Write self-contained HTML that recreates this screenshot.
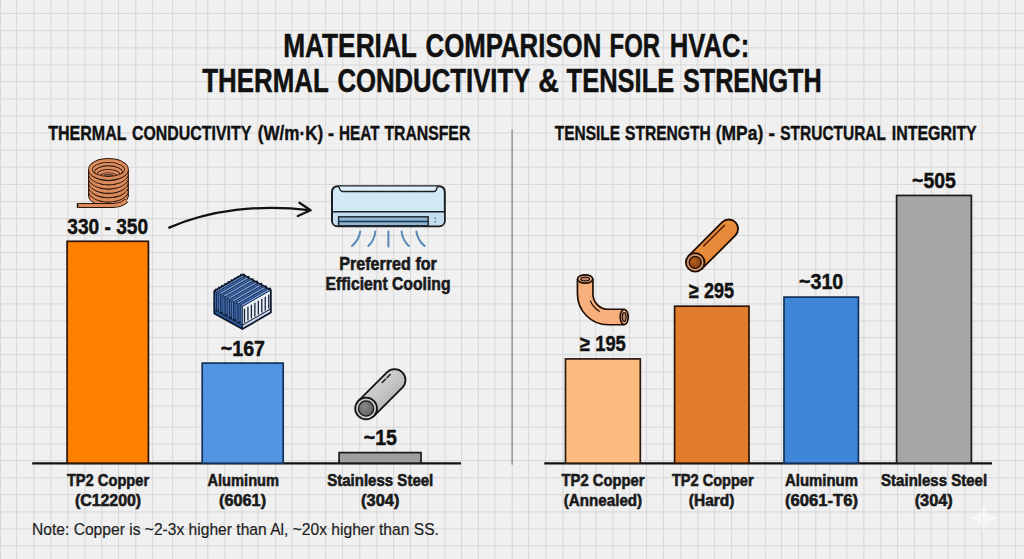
<!DOCTYPE html>
<html><head><meta charset="utf-8"><title>Material Comparison for HVAC</title>
<style>
html,body{margin:0;padding:0;background:#f0f0f0;}
body{width:1024px;height:559px;overflow:hidden;font-family:"Liberation Sans",sans-serif;}
svg{display:block;}
</style></head><body>
<svg width="1024" height="559" viewBox="0 0 1024 559">
<rect width="1024" height="559" fill="#f0f0f0"/>
<g stroke="#d7d7d7" stroke-width="1.0"><line x1="0.5" y1="0" x2="0.5" y2="559"/><line x1="16.55" y1="0" x2="16.55" y2="559"/><line x1="33.8" y1="0" x2="33.8" y2="559"/><line x1="50.8" y1="0" x2="50.8" y2="559"/><line x1="67.8" y1="0" x2="67.8" y2="559"/><line x1="84.8" y1="0" x2="84.8" y2="559"/><line x1="101.8" y1="0" x2="101.8" y2="559"/><line x1="118.55" y1="0" x2="118.55" y2="559"/><line x1="135.8" y1="0" x2="135.8" y2="559"/><line x1="152.7" y1="0" x2="152.7" y2="559"/><line x1="172.7" y1="0" x2="172.7" y2="559"/><line x1="195.8" y1="0" x2="195.8" y2="559"/><line x1="207.8" y1="0" x2="207.8" y2="559"/><line x1="224.8" y1="0" x2="224.8" y2="559"/><line x1="241.8" y1="0" x2="241.8" y2="559"/><line x1="257.8" y1="0" x2="257.8" y2="559"/><line x1="275.7" y1="0" x2="275.7" y2="559"/><line x1="291.9" y1="0" x2="291.9" y2="559"/><line x1="308.8" y1="0" x2="308.8" y2="559"/><line x1="325.7" y1="0" x2="325.7" y2="559"/><line x1="342.6" y1="0" x2="342.6" y2="559"/><line x1="359.8" y1="0" x2="359.8" y2="559"/><line x1="376.9" y1="0" x2="376.9" y2="559"/><line x1="393.7" y1="0" x2="393.7" y2="559"/><line x1="410.55" y1="0" x2="410.55" y2="559"/><line x1="427.8" y1="0" x2="427.8" y2="559"/><line x1="444.9" y1="0" x2="444.9" y2="559"/><line x1="461.55" y1="0" x2="461.55" y2="559"/><line x1="478.3" y1="0" x2="478.3" y2="559"/><line x1="494.9" y1="0" x2="494.9" y2="559"/><line x1="512.2" y1="0" x2="512.2" y2="559"/><line x1="528.55" y1="0" x2="528.55" y2="559"/><line x1="545.8" y1="0" x2="545.8" y2="559"/><line x1="562.9" y1="0" x2="562.9" y2="559"/><line x1="579.8" y1="0" x2="579.8" y2="559"/><line x1="595.8" y1="0" x2="595.8" y2="559"/><line x1="612.9" y1="0" x2="612.9" y2="559"/><line x1="629.8" y1="0" x2="629.8" y2="559"/><line x1="646.55" y1="0" x2="646.55" y2="559"/><line x1="663.4" y1="0" x2="663.4" y2="559"/><line x1="680.9" y1="0" x2="680.9" y2="559"/><line x1="697.8" y1="0" x2="697.8" y2="559"/><line x1="714.7" y1="0" x2="714.7" y2="559"/><line x1="731.55" y1="0" x2="731.55" y2="559"/><line x1="748.4" y1="0" x2="748.4" y2="559"/><line x1="765.3" y1="0" x2="765.3" y2="559"/><line x1="781.4" y1="0" x2="781.4" y2="559"/><line x1="798.55" y1="0" x2="798.55" y2="559"/><line x1="815.8" y1="0" x2="815.8" y2="559"/><line x1="829.8" y1="0" x2="829.8" y2="559"/><line x1="846.8" y1="0" x2="846.8" y2="559"/><line x1="863.9" y1="0" x2="863.9" y2="559"/><line x1="880.8" y1="0" x2="880.8" y2="559"/><line x1="897.55" y1="0" x2="897.55" y2="559"/><line x1="914.4" y1="0" x2="914.4" y2="559"/><line x1="931.05" y1="0" x2="931.05" y2="559"/><line x1="947.8" y1="0" x2="947.8" y2="559"/><line x1="964.8" y1="0" x2="964.8" y2="559"/><line x1="981.9" y1="0" x2="981.9" y2="559"/><line x1="998.8" y1="0" x2="998.8" y2="559"/><line x1="1015.7" y1="0" x2="1015.7" y2="559"/><line x1="0" y1="13.45" x2="1024" y2="13.45"/><line x1="0" y1="30.7" x2="1024" y2="30.7"/><line x1="0" y1="47.8" x2="1024" y2="47.8"/><line x1="0" y1="64.9" x2="1024" y2="64.9"/><line x1="0" y1="81.6" x2="1024" y2="81.6"/><line x1="0" y1="98.9" x2="1024" y2="98.9"/><line x1="0" y1="115.8" x2="1024" y2="115.8"/><line x1="0" y1="133.0" x2="1024" y2="133.0"/><line x1="0" y1="150.3" x2="1024" y2="150.3"/><line x1="0" y1="167.2" x2="1024" y2="167.2"/><line x1="0" y1="184.4" x2="1024" y2="184.4"/><line x1="0" y1="201.6" x2="1024" y2="201.6"/><line x1="0" y1="218.6" x2="1024" y2="218.6"/><line x1="0" y1="235.6" x2="1024" y2="235.6"/><line x1="0" y1="252.65" x2="1024" y2="252.65"/><line x1="0" y1="269.4" x2="1024" y2="269.4"/><line x1="0" y1="286.6" x2="1024" y2="286.6"/><line x1="0" y1="303.9" x2="1024" y2="303.9"/><line x1="0" y1="320.9" x2="1024" y2="320.9"/><line x1="0" y1="337.6" x2="1024" y2="337.6"/><line x1="0" y1="354.7" x2="1024" y2="354.7"/><line x1="0" y1="371.9" x2="1024" y2="371.9"/><line x1="0" y1="388.9" x2="1024" y2="388.9"/><line x1="0" y1="405.95" x2="1024" y2="405.95"/><line x1="0" y1="427.2" x2="1024" y2="427.2"/><line x1="0" y1="443.9" x2="1024" y2="443.9"/><line x1="0" y1="460.6" x2="1024" y2="460.6"/><line x1="0" y1="477.8" x2="1024" y2="477.8"/><line x1="0" y1="494.7" x2="1024" y2="494.7"/><line x1="0" y1="511.9" x2="1024" y2="511.9"/><line x1="0" y1="528.9" x2="1024" y2="528.9"/><line x1="0" y1="545.9" x2="1024" y2="545.9"/></g><line x1="512.2" y1="129.5" x2="512.2" y2="464.7" stroke="#a0a0a0" stroke-width="1.7"/><line x1="32.2" y1="463.4" x2="461" y2="463.4" stroke="#111" stroke-width="2.2"/><line x1="544.3" y1="463.4" x2="992" y2="463.4" stroke="#111" stroke-width="2.2"/><rect x="67.1" y="241.3" width="81.30000000000001" height="221.89999999999998" fill="#ff8000" stroke="#2a1405" stroke-width="1.7"/><rect x="202.2" y="363.1" width="81.0" height="100.09999999999997" fill="#5094e2" stroke="#14305a" stroke-width="1.7"/><rect x="339.1" y="452.6" width="81.89999999999998" height="10.599999999999966" fill="#9f9f9f" stroke="#1a1a1a" stroke-width="1.7"/><rect x="565.5" y="358.9" width="74.79999999999995" height="104.30000000000001" fill="#fdbb7f" stroke="#2a1a10" stroke-width="1.7"/><rect x="674.6" y="306.2" width="74.39999999999998" height="157.0" fill="#e17c2c" stroke="#2a1405" stroke-width="1.7"/><rect x="784.0" y="297.1" width="74.39999999999998" height="166.09999999999997" fill="#3d86d8" stroke="#14305a" stroke-width="1.7"/><rect x="896.6" y="195.45" width="74.79999999999995" height="267.75" fill="#a6a6a6" stroke="#1a1a1a" stroke-width="1.7"/><defs><linearGradient id="gss" x1="0" y1="0" x2="1" y2="1"><stop offset="0" stop-color="#e4e4e4"/><stop offset="0.5" stop-color="#c6c6c6"/><stop offset="1" stop-color="#9a9a9a"/></linearGradient><radialGradient id="gssh" cx="0.4" cy="0.4" r="0.7"><stop offset="0" stop-color="#8a8a8a"/><stop offset="1" stop-color="#5a5a5a"/></radialGradient><linearGradient id="gcu" x1="0" y1="0" x2="1" y2="1"><stop offset="0" stop-color="#f0994a"/><stop offset="1" stop-color="#df7d2c"/></linearGradient><radialGradient id="gcuh" cx="0.4" cy="0.4" r="0.7"><stop offset="0" stop-color="#b5601f"/><stop offset="1" stop-color="#7e3a10"/></radialGradient></defs><g><path d="M88.05,169.4 L88.05,195.2 A20.4,11.4 0 0 0 128.85,195.2 L128.85,169.4 Z" fill="#2a1307"/><path d="M90.45,195.2 A18.0,9.0 0 0 0 126.45,195.2" fill="none" stroke="#2a1307" stroke-width="4.4"/><path d="M90.45,195.2 A18.0,9.0 0 0 0 126.45,195.2" fill="none" stroke="#da8a5b" stroke-width="3.1"/><path d="M90.45,190.9 A18.0,9.0 0 0 0 126.45,190.9" fill="none" stroke="#2a1307" stroke-width="4.4"/><path d="M90.45,190.9 A18.0,9.0 0 0 0 126.45,190.9" fill="none" stroke="#da8a5b" stroke-width="3.1"/><path d="M90.45,186.6 A18.0,9.0 0 0 0 126.45,186.6" fill="none" stroke="#2a1307" stroke-width="4.4"/><path d="M90.45,186.6 A18.0,9.0 0 0 0 126.45,186.6" fill="none" stroke="#da8a5b" stroke-width="3.1"/><path d="M90.45,182.3 A18.0,9.0 0 0 0 126.45,182.3" fill="none" stroke="#2a1307" stroke-width="4.4"/><path d="M90.45,182.3 A18.0,9.0 0 0 0 126.45,182.3" fill="none" stroke="#da8a5b" stroke-width="3.1"/><path d="M90.45,178.0 A18.0,9.0 0 0 0 126.45,178.0" fill="none" stroke="#2a1307" stroke-width="4.4"/><path d="M90.45,178.0 A18.0,9.0 0 0 0 126.45,178.0" fill="none" stroke="#da8a5b" stroke-width="3.1"/><path d="M90.45,173.70000000000002 A18.0,9.0 0 0 0 126.45,173.70000000000002" fill="none" stroke="#2a1307" stroke-width="4.4"/><path d="M90.45,173.70000000000002 A18.0,9.0 0 0 0 126.45,173.70000000000002" fill="none" stroke="#da8a5b" stroke-width="3.1"/><path d="M78.6,205.5 L113,205.5 Q121,205.5 126.5,200.5" fill="none" stroke="#2a1307" stroke-width="5.0" stroke-linecap="butt"/><path d="M78.6,205.5 L113,205.5 Q121,205.5 126.5,200.5" fill="none" stroke="#da8a5b" stroke-width="3.2"/><path d="M77.6,203 L77.6,208" stroke="#2a1307" stroke-width="1.6"/><defs><clipPath id="coilin"><ellipse cx="108.45" cy="169.4" rx="16.7" ry="7.7"/></clipPath></defs><ellipse cx="108.45" cy="169.4" rx="18.0" ry="9.0" fill="#c47a55"/><g clip-path="url(#coilin)"><ellipse cx="108.45" cy="176.6" rx="10.98" ry="5.49" fill="none" stroke="#2a1307" stroke-width="4.0"/><ellipse cx="108.45" cy="176.6" rx="10.98" ry="5.49" fill="none" stroke="#d98a60" stroke-width="2.8"/><ellipse cx="108.45" cy="174.20000000000002" rx="13.32" ry="6.66" fill="none" stroke="#2a1307" stroke-width="4.0"/><ellipse cx="108.45" cy="174.20000000000002" rx="13.32" ry="6.66" fill="none" stroke="#d98a60" stroke-width="2.8"/><ellipse cx="108.45" cy="171.8" rx="15.66" ry="7.83" fill="none" stroke="#2a1307" stroke-width="4.0"/><ellipse cx="108.45" cy="171.8" rx="15.66" ry="7.83" fill="none" stroke="#d98a60" stroke-width="2.8"/><ellipse cx="108.45" cy="176.4" rx="5.2" ry="1.7" fill="#9a8d88" stroke="#2a1307" stroke-width="1"/></g><ellipse cx="108.45" cy="169.4" rx="18.0" ry="9.0" fill="none" stroke="#2a1307" stroke-width="4.6"/><ellipse cx="108.45" cy="169.4" rx="18.0" ry="9.0" fill="none" stroke="#da8a5b" stroke-width="3.0"/></g><g fill="none" stroke="#111" stroke-width="2.3" stroke-linecap="round" stroke-linejoin="round"><path d="M169.2,227.6 C210,210 260,204 309.5,210.2"/><path d="M299.4,202.8 L310.6,210.3 L297.8,216"/></g><g><rect x="332" y="186.2" width="112.8" height="40" rx="5.5" fill="#d2e9f6" stroke="#1b1f24" stroke-width="2"/><path d="M333,212 L443.8,212 L443.8,221 Q443.8,225.2 439.5,225.2 L337.3,225.2 Q333,225.2 333,221 Z" fill="#c4def0"/><line x1="332.5" y1="211.8" x2="444.3" y2="211.8" stroke="#1b1f24" stroke-width="1.6"/><path d="M339,186.6 Q340,191.5 342.5,191.5 L434,191.5 Q436.5,191.5 437.3,186.6" fill="#e0f0fa" stroke="#1b1f24" stroke-width="1.4"/><rect x="338.6" y="216.8" width="89.6" height="9" fill="#8fb4d2" stroke="#1b1f24" stroke-width="1.4"/><line x1="338.6" y1="221.5" x2="428.2" y2="221.5" stroke="#17324d" stroke-width="1.5"/><rect x="434.4" y="217.6" width="1.6" height="1.4" fill="#4a6f90"/><rect x="434.4" y="221.2" width="1.6" height="1.4" fill="#4a6f90"/><g fill="none" stroke="#5a88b8" stroke-width="2" stroke-linecap="round"><path d="M360.2,231.5 Q359,240 352,246"/><path d="M375.4,231.5 Q374.5,240 368.4,246"/><path d="M388.4,231.5 L388.4,246.4"/><path d="M401.6,231.5 Q402.5,240 408.8,246"/><path d="M416.4,231.5 Q417.5,240 424.6,246"/></g></g><g><path d="M214.30,309.60 L242.40,325.00 L242.40,306.40 L214.30,291.00 Z" fill="#1b2c4c" stroke="#0f1a30" stroke-width="0.8" stroke-linejoin="round"/><path d="M214.30,313.60 L242.40,329.00 L242.40,325.00 L214.30,309.60 Z" fill="#2c5597" stroke="#0f1a30" stroke-width="1.0" stroke-linejoin="round"/><path d="M242.40,329.00 L270.80,312.60 L270.80,308.60 L242.40,325.00 Z" fill="#c9d6e8" stroke="#0f1a30" stroke-width="1.0" stroke-linejoin="round"/><path d="M214.30,309.60 L216.41,310.75 L216.41,292.15 L214.30,291.00 Z" fill="#5584cc" stroke="#0f1a30" stroke-width="0.7" stroke-linejoin="round"/><path d="M216.41,310.75 L244.81,294.36 L244.81,275.75 L216.41,292.15 Z" fill="#3d6bb6" stroke="#0f1a30" stroke-width="0.8" stroke-linejoin="round"/><path d="M214.30,291.00 L216.41,292.15 L244.81,275.75 L242.70,274.60 Z" fill="#7fa3dc" stroke="#0f1a30" stroke-width="0.7" stroke-linejoin="round"/><path d="M218.63,311.97 L220.74,313.13 L220.74,294.53 L218.63,293.37 Z" fill="#5584cc" stroke="#0f1a30" stroke-width="0.7" stroke-linejoin="round"/><path d="M220.74,313.13 L249.14,296.73 L249.14,278.13 L220.74,294.53 Z" fill="#3d6bb6" stroke="#0f1a30" stroke-width="0.8" stroke-linejoin="round"/><path d="M218.63,293.37 L220.74,294.53 L249.14,278.13 L247.03,276.97 Z" fill="#7fa3dc" stroke="#0f1a30" stroke-width="0.7" stroke-linejoin="round"/><path d="M222.96,314.35 L225.07,315.50 L225.07,296.90 L222.96,295.75 Z" fill="#5584cc" stroke="#0f1a30" stroke-width="0.7" stroke-linejoin="round"/><path d="M225.07,315.50 L253.47,299.10 L253.47,280.50 L225.07,296.90 Z" fill="#3d6bb6" stroke="#0f1a30" stroke-width="0.8" stroke-linejoin="round"/><path d="M222.96,295.75 L225.07,296.90 L253.47,280.50 L251.36,279.35 Z" fill="#7fa3dc" stroke="#0f1a30" stroke-width="0.7" stroke-linejoin="round"/><path d="M227.30,316.72 L229.40,317.88 L229.40,299.28 L227.30,298.12 Z" fill="#5584cc" stroke="#0f1a30" stroke-width="0.7" stroke-linejoin="round"/><path d="M229.40,317.88 L257.80,301.48 L257.80,282.88 L229.40,299.28 Z" fill="#3d6bb6" stroke="#0f1a30" stroke-width="0.8" stroke-linejoin="round"/><path d="M227.30,298.12 L229.40,299.28 L257.80,282.88 L255.70,281.72 Z" fill="#7fa3dc" stroke="#0f1a30" stroke-width="0.7" stroke-linejoin="round"/><path d="M231.63,319.10 L233.74,320.25 L233.74,301.65 L231.63,300.50 Z" fill="#5584cc" stroke="#0f1a30" stroke-width="0.7" stroke-linejoin="round"/><path d="M233.74,320.25 L262.14,303.85 L262.14,285.25 L233.74,301.65 Z" fill="#3d6bb6" stroke="#0f1a30" stroke-width="0.8" stroke-linejoin="round"/><path d="M231.63,300.50 L233.74,301.65 L262.14,285.25 L260.03,284.10 Z" fill="#7fa3dc" stroke="#0f1a30" stroke-width="0.7" stroke-linejoin="round"/><path d="M235.96,321.47 L238.07,322.63 L238.07,304.03 L235.96,302.87 Z" fill="#5584cc" stroke="#0f1a30" stroke-width="0.7" stroke-linejoin="round"/><path d="M238.07,322.63 L266.47,306.23 L266.47,287.63 L238.07,304.03 Z" fill="#3d6bb6" stroke="#0f1a30" stroke-width="0.8" stroke-linejoin="round"/><path d="M235.96,302.87 L238.07,304.03 L266.47,287.63 L264.36,286.47 Z" fill="#7fa3dc" stroke="#0f1a30" stroke-width="0.7" stroke-linejoin="round"/><path d="M240.29,323.85 L242.40,325.00 L242.40,306.40 L240.29,305.25 Z" fill="#5584cc" stroke="#0f1a30" stroke-width="0.7" stroke-linejoin="round"/><path d="M242.40,325.00 L270.80,308.60 L270.80,290.00 L242.40,306.40 Z" fill="#e8eef6" stroke="#0f1a30" stroke-width="0.8" stroke-linejoin="round"/><path d="M240.29,305.25 L242.40,306.40 L270.80,290.00 L268.69,288.85 Z" fill="#7fa3dc" stroke="#0f1a30" stroke-width="0.7" stroke-linejoin="round"/><line x1="244.48" y1="322.60" x2="244.48" y2="308.70" stroke="#18233a" stroke-width="1.3"/><line x1="247.94" y1="320.60" x2="247.94" y2="306.70" stroke="#18233a" stroke-width="1.3"/><line x1="251.40" y1="318.60" x2="251.40" y2="304.70" stroke="#18233a" stroke-width="1.3"/><line x1="254.87" y1="316.60" x2="254.87" y2="302.70" stroke="#18233a" stroke-width="1.3"/><line x1="258.33" y1="314.60" x2="258.33" y2="300.70" stroke="#18233a" stroke-width="1.3"/><line x1="261.80" y1="312.60" x2="261.80" y2="298.70" stroke="#18233a" stroke-width="1.3"/><line x1="265.26" y1="310.60" x2="265.26" y2="296.70" stroke="#18233a" stroke-width="1.3"/><line x1="268.72" y1="308.60" x2="268.72" y2="294.70" stroke="#18233a" stroke-width="1.3"/><path d="M214.30,291.00 L214.30,313.60 L242.40,329.00 L270.80,312.60 L270.80,290.00 L242.70,274.60 Z" fill="none" stroke="#0f1a30" stroke-width="1.7" stroke-linejoin="round"/><circle cx="244.05" cy="274.48" r="1.1" fill="#0f1a30"/><circle cx="248.39" cy="276.85" r="1.1" fill="#0f1a30"/><circle cx="252.72" cy="279.23" r="1.1" fill="#0f1a30"/><circle cx="257.05" cy="281.60" r="1.1" fill="#0f1a30"/><circle cx="261.38" cy="283.97" r="1.1" fill="#0f1a30"/><circle cx="265.71" cy="286.35" r="1.1" fill="#0f1a30"/><circle cx="270.05" cy="288.72" r="1.1" fill="#0f1a30"/><circle cx="215.88" cy="289.49" r="1.1" fill="#0f1a30"/><circle cx="219.03" cy="287.67" r="1.1" fill="#0f1a30"/><circle cx="222.19" cy="285.84" r="1.1" fill="#0f1a30"/><circle cx="225.34" cy="284.02" r="1.1" fill="#0f1a30"/><circle cx="228.50" cy="282.20" r="1.1" fill="#0f1a30"/><circle cx="231.66" cy="280.38" r="1.1" fill="#0f1a30"/><circle cx="234.81" cy="278.56" r="1.1" fill="#0f1a30"/><circle cx="237.97" cy="276.73" r="1.1" fill="#0f1a30"/><circle cx="241.12" cy="274.91" r="1.1" fill="#0f1a30"/></g><path d="M373.81,416.21 L402.31,387.71 A10.9,10.9 0 0 0 386.89,372.29 L358.39,400.79 Z" fill="url(#gss)" stroke="#141414" stroke-width="1.8" stroke-linejoin="round"/><line x1="382.2" y1="382.6" x2="391.3" y2="373.4" stroke="#1a1a1a" stroke-width="1.4" stroke-linecap="round" stroke-dasharray="4.6 2.2"/><circle cx="366.1" cy="408.5" r="10.9" fill="#cfcfcf" stroke="#141414" stroke-width="1.8"/><circle cx="366.1" cy="408.5" r="7.6" fill="url(#gssh)" stroke="#141414" stroke-width="1.3"/><path d="M701.78,268.98 L735.38,235.38 A9.3,9.3 0 0 0 722.22,222.22 L688.62,255.82 Z" fill="url(#gcu)" stroke="#1f0d04" stroke-width="1.8" stroke-linejoin="round"/><line x1="703.6" y1="246.0" x2="724.4" y2="225.4" stroke="#5a2408" stroke-width="1.7" stroke-linecap="round"/><circle cx="695.2" cy="262.4" r="9.3" fill="#d79a70" stroke="#1f0d04" stroke-width="1.8"/><circle cx="695.2" cy="262.4" r="6.0" fill="url(#gcuh)" stroke="#1f0d04" stroke-width="1.3"/><path d="M585.2,279 L585.2,294 A23,23 0 0 0 608.2,317 L623.8,317" fill="none" stroke="#1f0d04" stroke-width="17.2"/><path d="M585.2,279 L585.2,294 A23,23 0 0 0 608.2,317 L623.8,317" fill="none" stroke="#f7b07c" stroke-width="13.8"/><path d="M590.5,301 Q593,307.5 599.4,311.2" fill="none" stroke="#1f0d04" stroke-width="1.2" stroke-linecap="round"/><ellipse cx="585.2" cy="279" rx="7.6" ry="4.2" fill="#f2b88e" stroke="#1f0d04" stroke-width="1.7"/><ellipse cx="585.2" cy="279" rx="4.4" ry="1.9" fill="#b9866a" stroke="#1f0d04" stroke-width="1.2"/><ellipse cx="624.2" cy="317" rx="4.0" ry="7.6" fill="#f2b88e" stroke="#1f0d04" stroke-width="1.7"/><ellipse cx="624.2" cy="317" rx="1.9" ry="4.4" fill="#b9866a" stroke="#1f0d04" stroke-width="1.2"/><path d="M983.5,501 C985.0,513 988.5,516.5 999.5,518 C988.5,519.5 985.0,523 983.5,535 C982.0,523 978.5,519.5 967.5,518 C978.5,516.5 982.0,513 983.5,501 Z" fill="#ffffff" opacity="0.45"/><g style="font-family:&quot;Liberation Sans&quot;,sans-serif"><text x="283.20" y="57.0" font-size="33.5" font-weight="bold" fill="#111" stroke="#111" stroke-width="0.5" textLength="133.70" lengthAdjust="spacingAndGlyphs">MATERIAL</text><text x="425.50" y="57.0" font-size="33.5" font-weight="bold" fill="#111" stroke="#111" stroke-width="0.5" textLength="175.80" lengthAdjust="spacingAndGlyphs">COMPARISON</text><text x="609.60" y="57.0" font-size="33.5" font-weight="bold" fill="#111" stroke="#111" stroke-width="0.5" textLength="50.50" lengthAdjust="spacingAndGlyphs">FOR</text><text x="669.80" y="57.0" font-size="33.5" font-weight="bold" fill="#111" stroke="#111" stroke-width="0.5" textLength="79.40" lengthAdjust="spacingAndGlyphs">HVAC:</text><text x="202.30" y="91.8" font-size="33.5" font-weight="bold" fill="#111" stroke="#111" stroke-width="0.5" textLength="126.50" lengthAdjust="spacingAndGlyphs">THERMAL</text><text x="337.40" y="91.8" font-size="33.5" font-weight="bold" fill="#111" stroke="#111" stroke-width="0.5" textLength="192.90" lengthAdjust="spacingAndGlyphs">CONDUCTIVITY</text><text x="538.20" y="91.8" font-size="33.5" font-weight="bold" fill="#111" stroke="#111" stroke-width="0.5" textLength="20.70" lengthAdjust="spacingAndGlyphs">&amp;</text><text x="566.60" y="91.8" font-size="33.5" font-weight="bold" fill="#111" stroke="#111" stroke-width="0.5" textLength="107.70" lengthAdjust="spacingAndGlyphs">TENSILE</text><text x="682.90" y="91.8" font-size="33.5" font-weight="bold" fill="#111" stroke="#111" stroke-width="0.5" textLength="138.80" lengthAdjust="spacingAndGlyphs">STRENGTH</text><text x="48.25" y="140.0" font-size="20.5" font-weight="bold" fill="#111" stroke="#111" stroke-width="0.4" textLength="78.25" lengthAdjust="spacingAndGlyphs">THERMAL</text><text x="132.00" y="140.0" font-size="20.5" font-weight="bold" fill="#111" stroke="#111" stroke-width="0.4" textLength="119.25" lengthAdjust="spacingAndGlyphs">CONDUCTIVITY</text><text x="257.75" y="140.0" font-size="20.5" font-weight="bold" fill="#111" stroke="#111" stroke-width="0.4" textLength="65.50" lengthAdjust="spacingAndGlyphs">(W/m·K)</text><text x="328.00" y="140.0" font-size="20.5" font-weight="bold" fill="#111" stroke="#111" stroke-width="0.4" textLength="6.00" lengthAdjust="spacingAndGlyphs">-</text><text x="339.00" y="140.0" font-size="20.5" font-weight="bold" fill="#111" stroke="#111" stroke-width="0.4" textLength="40.50" lengthAdjust="spacingAndGlyphs">HEAT</text><text x="384.50" y="140.0" font-size="20.5" font-weight="bold" fill="#111" stroke="#111" stroke-width="0.4" textLength="85.75" lengthAdjust="spacingAndGlyphs">TRANSFER</text><text x="554.75" y="140.0" font-size="20.5" font-weight="bold" fill="#111" stroke="#111" stroke-width="0.4" textLength="65.25" lengthAdjust="spacingAndGlyphs">TENSILE</text><text x="625.00" y="140.0" font-size="20.5" font-weight="bold" fill="#111" stroke="#111" stroke-width="0.4" textLength="85.75" lengthAdjust="spacingAndGlyphs">STRENGTH</text><text x="715.75" y="140.0" font-size="20.5" font-weight="bold" fill="#111" stroke="#111" stroke-width="0.4" textLength="47.50" lengthAdjust="spacingAndGlyphs">(MPa)</text><text x="768.50" y="140.0" font-size="20.5" font-weight="bold" fill="#111" stroke="#111" stroke-width="0.4" textLength="6.50" lengthAdjust="spacingAndGlyphs">-</text><text x="780.25" y="140.0" font-size="20.5" font-weight="bold" fill="#111" stroke="#111" stroke-width="0.4" textLength="105.75" lengthAdjust="spacingAndGlyphs">STRUCTURAL</text><text x="891.75" y="140.0" font-size="20.5" font-weight="bold" fill="#111" stroke="#111" stroke-width="0.4" textLength="85.00" lengthAdjust="spacingAndGlyphs">INTEGRITY</text><text x="67.30" y="233.5" font-size="21.5" font-weight="bold" fill="#111" stroke="#111" stroke-width="0.45" textLength="80.85" lengthAdjust="spacingAndGlyphs">330 - 350</text><text x="220.85" y="355.75" font-size="21.5" font-weight="bold" fill="#111" stroke="#111" stroke-width="0.45" textLength="44.15" lengthAdjust="spacingAndGlyphs">~167</text><text x="363.75" y="445.4" font-size="21.5" font-weight="bold" fill="#111" stroke="#111" stroke-width="0.45" textLength="33.20" lengthAdjust="spacingAndGlyphs">~15</text><text x="580.00" y="351.4" font-size="21.5" font-weight="bold" fill="#111" stroke="#111" stroke-width="0.45" textLength="45.80" lengthAdjust="spacingAndGlyphs">≥ 195</text><text x="689.00" y="298.3" font-size="21.5" font-weight="bold" fill="#111" stroke="#111" stroke-width="0.45" textLength="45.00" lengthAdjust="spacingAndGlyphs">≥ 295</text><text x="799.00" y="289.4" font-size="21.5" font-weight="bold" fill="#111" stroke="#111" stroke-width="0.45" textLength="44.30" lengthAdjust="spacingAndGlyphs">~310</text><text x="912.10" y="188.4" font-size="21.5" font-weight="bold" fill="#111" stroke="#111" stroke-width="0.45" textLength="43.80" lengthAdjust="spacingAndGlyphs">~505</text><text x="66.90" y="486.4" font-size="17.0" font-weight="bold" fill="#1a1a1a" stroke="#1a1a1a" stroke-width="0.6" textLength="82.25" lengthAdjust="spacingAndGlyphs">TP2 Copper</text><text x="74.90" y="505.9" font-size="17.0" font-weight="bold" fill="#1a1a1a" stroke="#1a1a1a" stroke-width="0.6" textLength="66.25" lengthAdjust="spacingAndGlyphs">(C12200)</text><text x="207.40" y="486.4" font-size="17.0" font-weight="bold" fill="#1a1a1a" stroke="#1a1a1a" stroke-width="0.6" textLength="71.70" lengthAdjust="spacingAndGlyphs">Aluminum</text><text x="219.05" y="505.9" font-size="17.0" font-weight="bold" fill="#1a1a1a" stroke="#1a1a1a" stroke-width="0.6" textLength="47.00" lengthAdjust="spacingAndGlyphs">(6061)</text><text x="327.20" y="486.4" font-size="17.0" font-weight="bold" fill="#1a1a1a" stroke="#1a1a1a" stroke-width="0.6" textLength="106.10" lengthAdjust="spacingAndGlyphs">Stainless Steel</text><text x="361.05" y="505.9" font-size="17.0" font-weight="bold" fill="#1a1a1a" stroke="#1a1a1a" stroke-width="0.6" textLength="38.30" lengthAdjust="spacingAndGlyphs">(304)</text><text x="561.55" y="486.4" font-size="17.0" font-weight="bold" fill="#1a1a1a" stroke="#1a1a1a" stroke-width="0.6" textLength="82.90" lengthAdjust="spacingAndGlyphs">TP2 Copper</text><text x="563.80" y="505.9" font-size="17.0" font-weight="bold" fill="#1a1a1a" stroke="#1a1a1a" stroke-width="0.6" textLength="78.35" lengthAdjust="spacingAndGlyphs">(Annealed)</text><text x="671.90" y="486.4" font-size="17.0" font-weight="bold" fill="#1a1a1a" stroke="#1a1a1a" stroke-width="0.6" textLength="81.70" lengthAdjust="spacingAndGlyphs">TP2 Copper</text><text x="688.85" y="505.9" font-size="17.0" font-weight="bold" fill="#1a1a1a" stroke="#1a1a1a" stroke-width="0.6" textLength="45.50" lengthAdjust="spacingAndGlyphs">(Hard)</text><text x="785.05" y="486.4" font-size="17.0" font-weight="bold" fill="#1a1a1a" stroke="#1a1a1a" stroke-width="0.6" textLength="72.95" lengthAdjust="spacingAndGlyphs">Aluminum</text><text x="785.05" y="505.9" font-size="17.0" font-weight="bold" fill="#1a1a1a" stroke="#1a1a1a" stroke-width="0.6" textLength="72.95" lengthAdjust="spacingAndGlyphs">(6061-T6)</text><text x="881.10" y="486.4" font-size="17.0" font-weight="bold" fill="#1a1a1a" stroke="#1a1a1a" stroke-width="0.6" textLength="106.00" lengthAdjust="spacingAndGlyphs">Stainless Steel</text><text x="914.65" y="505.9" font-size="17.0" font-weight="bold" fill="#1a1a1a" stroke="#1a1a1a" stroke-width="0.6" textLength="38.15" lengthAdjust="spacingAndGlyphs">(304)</text><text x="339.30" y="269.6" font-size="18.1" font-weight="bold" fill="#1a1a1a" stroke="#1a1a1a" stroke-width="0.6" textLength="97.55" lengthAdjust="spacingAndGlyphs">Preferred for</text><text x="325.60" y="289.8" font-size="17.9" font-weight="bold" fill="#1a1a1a" stroke="#1a1a1a" stroke-width="0.6" textLength="124.90" lengthAdjust="spacingAndGlyphs">Efficient Cooling</text><text x="32.00" y="535.3" font-size="16.8" font-weight="normal" fill="#1e1e1e" stroke="#1e1e1e" stroke-width="0.2" textLength="406.90" lengthAdjust="spacingAndGlyphs">Note: Copper is ~2-3x higher than Al, ~20x higher than SS.</text></g>
</svg>
</body></html>
